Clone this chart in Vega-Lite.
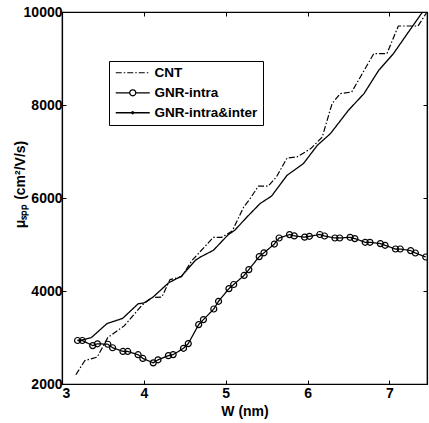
{
  "$schema": "https://vega.github.io/schema/vega-lite/v6.json",
  "width": 365,
  "height": 372,
  "autosize": {"type": "none"},
  "padding": {"left": 62, "top": 12, "right": 2, "bottom": 39},
  "background": "white",
  "config": {
    "view": {"stroke": "black", "strokeWidth": 1.2},
    "axis": {
      "domainColor": "black", "domainWidth": 1.2, "tickColor": "black", "tickSize": -4, "tickWidth": 1,
      "grid": false,
      "labelFont": "Liberation Sans", "labelFontWeight": "bold", "labelFontSize": 14, "labelColor": "black",
      "titleFont": "Liberation Sans", "titleFontWeight": "bold", "titleFontSize": 14, "titleColor": "black"
    }
  },
  "data": {
    "values": [
      {"series": "CNT", "W": 3.17, "mu": 2200},
      {"series": "CNT", "W": 3.28, "mu": 2505},
      {"series": "CNT", "W": 3.43, "mu": 2578},
      {"series": "CNT", "W": 3.56, "mu": 3000},
      {"series": "CNT", "W": 3.76, "mu": 3250},
      {"series": "CNT", "W": 3.98, "mu": 3700},
      {"series": "CNT", "W": 4.1, "mu": 3860},
      {"series": "CNT", "W": 4.22, "mu": 3871},
      {"series": "CNT", "W": 4.32, "mu": 4245},
      {"series": "CNT", "W": 4.46, "mu": 4305},
      {"series": "CNT", "W": 4.59, "mu": 4660},
      {"series": "CNT", "W": 4.85, "mu": 5155},
      {"series": "CNT", "W": 4.95, "mu": 5155},
      {"series": "CNT", "W": 5.08, "mu": 5290},
      {"series": "CNT", "W": 5.22, "mu": 5806},
      {"series": "CNT", "W": 5.3, "mu": 5990},
      {"series": "CNT", "W": 5.4, "mu": 6255},
      {"series": "CNT", "W": 5.52, "mu": 6255},
      {"series": "CNT", "W": 5.62, "mu": 6452},
      {"series": "CNT", "W": 5.75, "mu": 6860},
      {"series": "CNT", "W": 5.87, "mu": 6882},
      {"series": "CNT", "W": 6.04, "mu": 7062},
      {"series": "CNT", "W": 6.18, "mu": 7312},
      {"series": "CNT", "W": 6.3, "mu": 8030},
      {"series": "CNT", "W": 6.4, "mu": 8245},
      {"series": "CNT", "W": 6.54, "mu": 8280},
      {"series": "CNT", "W": 6.81, "mu": 9105},
      {"series": "CNT", "W": 6.97, "mu": 9105},
      {"series": "CNT", "W": 7.11, "mu": 9699},
      {"series": "CNT", "W": 7.35, "mu": 9699},
      {"series": "CNT", "W": 7.46, "mu": 10000},
      {"series": "GNR-intra", "W": 3.19, "mu": 2935},
      {"series": "GNR-intra", "W": 3.248, "mu": 2935},
      {"series": "GNR-intra", "W": 3.375, "mu": 2826},
      {"series": "GNR-intra", "W": 3.433, "mu": 2865},
      {"series": "GNR-intra", "W": 3.56, "mu": 2855},
      {"series": "GNR-intra", "W": 3.618, "mu": 2780},
      {"series": "GNR-intra", "W": 3.745, "mu": 2700},
      {"series": "GNR-intra", "W": 3.803, "mu": 2700},
      {"series": "GNR-intra", "W": 3.93, "mu": 2630},
      {"series": "GNR-intra", "W": 3.988, "mu": 2550},
      {"series": "GNR-intra", "W": 4.115, "mu": 2455},
      {"series": "GNR-intra", "W": 4.173, "mu": 2520},
      {"series": "GNR-intra", "W": 4.3, "mu": 2610},
      {"series": "GNR-intra", "W": 4.358, "mu": 2632},
      {"series": "GNR-intra", "W": 4.485, "mu": 2768},
      {"series": "GNR-intra", "W": 4.543, "mu": 2869},
      {"series": "GNR-intra", "W": 4.67, "mu": 3277},
      {"series": "GNR-intra", "W": 4.728, "mu": 3385},
      {"series": "GNR-intra", "W": 4.855, "mu": 3613},
      {"series": "GNR-intra", "W": 4.913, "mu": 3779},
      {"series": "GNR-intra", "W": 5.04, "mu": 4052},
      {"series": "GNR-intra", "W": 5.098, "mu": 4140},
      {"series": "GNR-intra", "W": 5.225, "mu": 4335},
      {"series": "GNR-intra", "W": 5.283, "mu": 4460},
      {"series": "GNR-intra", "W": 5.41, "mu": 4740},
      {"series": "GNR-intra", "W": 5.468, "mu": 4822},
      {"series": "GNR-intra", "W": 5.595, "mu": 5010},
      {"series": "GNR-intra", "W": 5.653, "mu": 5140},
      {"series": "GNR-intra", "W": 5.78, "mu": 5213},
      {"series": "GNR-intra", "W": 5.838, "mu": 5185},
      {"series": "GNR-intra", "W": 5.965, "mu": 5158},
      {"series": "GNR-intra", "W": 6.023, "mu": 5176},
      {"series": "GNR-intra", "W": 6.15, "mu": 5215},
      {"series": "GNR-intra", "W": 6.208, "mu": 5183},
      {"series": "GNR-intra", "W": 6.335, "mu": 5140},
      {"series": "GNR-intra", "W": 6.393, "mu": 5140},
      {"series": "GNR-intra", "W": 6.52, "mu": 5155},
      {"series": "GNR-intra", "W": 6.578, "mu": 5127},
      {"series": "GNR-intra", "W": 6.705, "mu": 5047},
      {"series": "GNR-intra", "W": 6.763, "mu": 5047},
      {"series": "GNR-intra", "W": 6.89, "mu": 5019},
      {"series": "GNR-intra", "W": 6.948, "mu": 4983},
      {"series": "GNR-intra", "W": 7.075, "mu": 4903},
      {"series": "GNR-intra", "W": 7.133, "mu": 4903},
      {"series": "GNR-intra", "W": 7.26, "mu": 4869},
      {"series": "GNR-intra", "W": 7.318, "mu": 4817},
      {"series": "GNR-intra", "W": 7.445, "mu": 4731},
      {"series": "GNR-intra&inter", "W": 3.19, "mu": 2940},
      {"series": "GNR-intra&inter", "W": 3.25, "mu": 2950},
      {"series": "GNR-intra&inter", "W": 3.36, "mu": 3000},
      {"series": "GNR-intra&inter", "W": 3.55, "mu": 3300},
      {"series": "GNR-intra&inter", "W": 3.74, "mu": 3410},
      {"series": "GNR-intra&inter", "W": 3.93, "mu": 3725},
      {"series": "GNR-intra&inter", "W": 4.0, "mu": 3742},
      {"series": "GNR-intra&inter", "W": 4.11, "mu": 3865},
      {"series": "GNR-intra&inter", "W": 4.3, "mu": 4172},
      {"series": "GNR-intra&inter", "W": 4.46, "mu": 4320},
      {"series": "GNR-intra&inter", "W": 4.63, "mu": 4660},
      {"series": "GNR-intra&inter", "W": 4.69, "mu": 4730},
      {"series": "GNR-intra&inter", "W": 4.85, "mu": 4875},
      {"series": "GNR-intra&inter", "W": 5.03, "mu": 5210},
      {"series": "GNR-intra&inter", "W": 5.11, "mu": 5305},
      {"series": "GNR-intra&inter", "W": 5.26, "mu": 5591},
      {"series": "GNR-intra&inter", "W": 5.42, "mu": 5880},
      {"series": "GNR-intra&inter", "W": 5.56, "mu": 6040},
      {"series": "GNR-intra&inter", "W": 5.75, "mu": 6488},
      {"series": "GNR-intra&inter", "W": 5.95, "mu": 6740},
      {"series": "GNR-intra&inter", "W": 6.12, "mu": 7133},
      {"series": "GNR-intra&inter", "W": 6.28, "mu": 7385},
      {"series": "GNR-intra&inter", "W": 6.5, "mu": 7886},
      {"series": "GNR-intra&inter", "W": 6.69, "mu": 8245},
      {"series": "GNR-intra&inter", "W": 6.87, "mu": 8746},
      {"series": "GNR-intra&inter", "W": 7.05, "mu": 9105},
      {"series": "GNR-intra&inter", "W": 7.22, "mu": 9535},
      {"series": "GNR-intra&inter", "W": 7.4, "mu": 9987},
      {"series": "GNR-intra&inter", "W": 7.46, "mu": 10100}
    ]
  },
  "layer": [
    {
      "mark": {"type": "line", "color": "black", "clip": true},
      "encoding": {
        "x": {"field": "W", "type": "quantitative", "scale": {"domain": [3, 7.46], "nice": false, "zero": false},
              "axis": {"orient": "bottom", "values": [3, 4, 5, 6, 7], "format": "d", "title": "W (nm)", "labelPadding": 6, "titlePadding": 4}},
        "y": {"field": "mu", "type": "quantitative", "scale": {"domain": [2000, 10000], "nice": false, "zero": false},
              "axis": {"orient": "left", "values": [2000, 4000, 6000, 8000, 10000], "format": "d", "title": "μₛₚₚ (cm²/V/s)", "labelPadding": 4, "titleX": -42, "titleY": 172, "titleBaseline": "middle"}},
        "strokeWidth": {"field": "series", "type": "nominal", "scale": {"domain": ["CNT", "GNR-intra", "GNR-intra&inter"], "range": [1.2, 1.3, 1.8]}, "legend": null},
        "strokeDash": {"field": "series", "type": "nominal",
          "scale": {"domain": ["CNT", "GNR-intra", "GNR-intra&inter"], "range": [[6, 2, 1.5, 2], [1, 0], [1, 0]]},
          "legend": {
            "title": null, "orient": "none", "legendX": 47, "legendY": 49, "direction": "vertical",
            "strokeColor": "black", "fillColor": "white", "padding": 5,
            "labelFont": "Liberation Sans", "labelFontWeight": "bold", "labelFontSize": 13.5, "labelColor": "black",
            "labelOffset": 27, "symbolSize": 100, "symbolStrokeColor": "black", "symbolStrokeWidth": 1.4,
            "symbolFillColor": "transparent", "rowPadding": 5, "symbolType": "M-1,0L5.8,0",
            "encode": {"symbols": {"update": {"shape": {"signal": "datum.value === 'GNR-intra' ? 'M-1,0L1.8,0A0.6,0.6 0 1,1 3.0,0A0.6,0.6 0 1,1 1.8,0M3.0,0L5.8,0' : datum.value === 'GNR-intra&inter' ? 'M-1,0L5.8,0M2.2,0A0.2,0.2 0 1,1 2.6,0A0.2,0.2 0 1,1 2.2,0' : 'M-1,0L5.8,0'"}}}}
          }
        }
      }
    },
    {
      "transform": [{"filter": "datum.series === 'GNR-intra'"}],
      "mark": {"type": "point", "shape": "circle", "filled": false, "size": 36, "stroke": "black", "strokeWidth": 1.2, "opacity": 1, "clip": true},
      "encoding": {
        "x": {"field": "W", "type": "quantitative", "axis": {"orient": "top", "values": [3, 4, 5, 6, 7], "labels": false, "title": null}},
        "y": {"field": "mu", "type": "quantitative", "axis": {"orient": "right", "values": [2000, 4000, 6000, 8000, 10000], "labels": false, "title": null}}
      }
    }
  ],
  "resolve": {"axis": {"x": "independent", "y": "independent"}}
}
